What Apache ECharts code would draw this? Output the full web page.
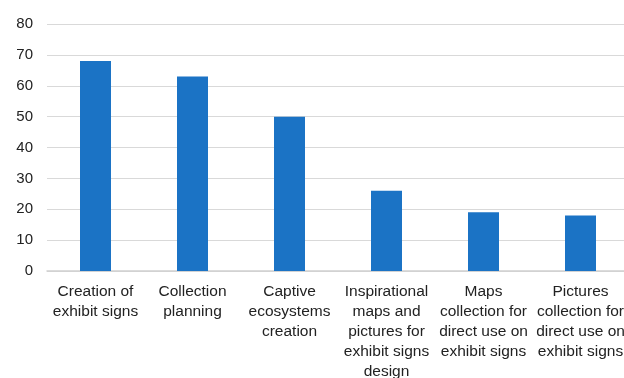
<!DOCTYPE html>
<html>
<head>
<meta charset="utf-8">
<script src="https://cdn.jsdelivr.net/npm/echarts@6/dist/echarts.min.js"></script>
<style>
  html,body{margin:0;padding:0;background:#fff;}
  #chart{width:624px;height:378px;}
</style>
</head>
<body>
<div id="chart"></div>
<script>
'use strict';

/* ---------- data ---------- */
const categories = [
  'Creation of\nexhibit signs',
  'Collection\nplanning',
  'Captive\necosystems\ncreation',
  'Inspirational\nmaps and\npictures for\nexhibit signs\ndesign',
  'Maps\ncollection for\ndirect use on\nexhibit signs',
  'Pictures\ncollection for\ndirect use on\nexhibit signs',
];
const values = [68, 63, 50, 26, 19, 18];
const yTicks = {min: 0, max: 80, step: 10};

/* ---------- style ---------- */
const C = {ink:'#222', grid:'#d9d9d9', bar:'#1b73c5', font:'"Liberation Sans",Arial,sans-serif'};

const chart = echarts.init(document.getElementById('chart'), null, {renderer:'canvas'});
chart.setOption({
  animation:false,
  grid:{left:47, top:24, width:582, height:247, containLabel:false, outerBoundsMode:'none'},
  xAxis:{
    type:'category', data:categories,
    axisLine:{lineStyle:{color:'#d0d0d0', width:1.5}},
    axisTick:{show:false},
    axisLabel:{color:C.ink, fontFamily:C.font, fontSize:15.5, lineHeight:20, margin:11, interval:0},
  },
  yAxis:{
    type:'value', min:yTicks.min, max:yTicks.max, interval:yTicks.step,
    axisLine:{show:false}, axisTick:{show:false},
    axisLabel:{color:C.ink, fontFamily:C.font, fontSize:15, margin:14},
    splitLine:{lineStyle:{color:C.grid, width:1.2}},
  },
  series:[{
    type:'bar', data:values, barWidth:31,
    itemStyle:{color:C.bar},
  }],
});
</script>
</body>
</html>
